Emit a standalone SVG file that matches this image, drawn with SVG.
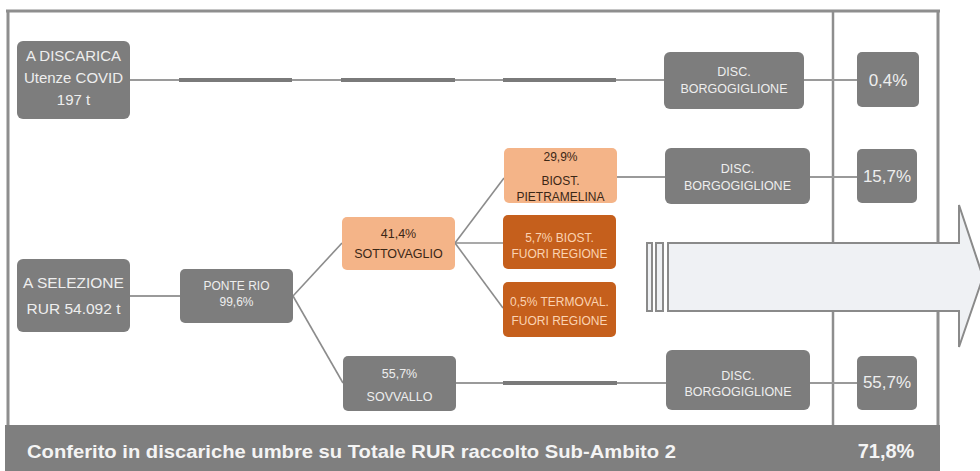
<svg xmlns="http://www.w3.org/2000/svg" width="980" height="471" viewBox="0 0 980 471">
  <style>
    .frame { stroke: #8e8e8e; stroke-width: 3; fill: none; }
    .divider { stroke: #8e8e8e; stroke-width: 2.5; fill: none; }
    .grey { fill: #7d7d7d; }
    .light { fill: #f4b488; }
    .dark { fill: #c55f1c; }
    .t { font-family: "Liberation Sans", Arial, sans-serif; text-anchor: middle; }
    .tg { fill: #eeeeee; }
    .tl { fill: #3b2716; }
    .td { fill: #fbd3b2; }
    .thin { stroke: #9a9a9a; stroke-width: 2; fill: none; }
    .thick { stroke: #7a7a7a; stroke-width: 4; fill: none; }
    .diag { stroke: #8c8c8c; stroke-width: 1.6; fill: none; }
    .arrow { fill: #eff1f4; stroke: #8a8a8a; stroke-width: 2; }
  </style>

  <!-- outer frame and column divider -->
  <g id="frame">
    <line class="frame" x1="6" y1="11" x2="940" y2="11"/>
    <line class="frame" x1="8" y1="10" x2="8" y2="426"/>
    <line class="frame" x1="938" y1="10" x2="938" y2="426"/>
    <line class="divider" x1="833" y1="11" x2="833" y2="426"/>
  </g>

  <!-- big arrow pointing right -->
  <g id="big-arrow">
    <rect class="arrow" x="647" y="243" width="5" height="68"/>
    <rect class="arrow" x="656" y="243" width="7" height="68"/>
    <path class="arrow" d="M668,243 H959 V205 L983,277 L959,347 V311 H668 Z"/>
  </g>

  <!-- connectors -->
  <g id="connectors">
    <!-- row: A DISCARICA -->
    <line class="thin" x1="130" y1="80" x2="179" y2="80"/>
    <line class="thick" x1="179" y1="80" x2="292" y2="80"/>
    <line class="thin" x1="292" y1="80" x2="341" y2="80"/>
    <line class="thick" x1="341" y1="80" x2="455" y2="80"/>
    <line class="thin" x1="455" y1="80" x2="503" y2="80"/>
    <line class="thick" x1="503" y1="80" x2="616" y2="80"/>
    <line class="thin" x1="616" y1="80" x2="664" y2="80"/>
    <line class="thin" x1="804" y1="80" x2="857" y2="80"/>
    <!-- A SELEZIONE to PONTE RIO -->
    <line class="thin" x1="130" y1="296" x2="180" y2="296"/>
    <!-- PONTE RIO branches -->
    <line class="diag" x1="293" y1="296" x2="342" y2="243"/>
    <line class="diag" x1="293" y1="296" x2="343" y2="383"/>
    <!-- SOTTOVAGLIO branches -->
    <line class="diag" x1="455" y1="243" x2="504" y2="178"/>
    <line class="diag" x1="455" y1="243" x2="503" y2="243"/>
    <line class="diag" x1="455" y1="243" x2="503" y2="308"/>
    <!-- PIETRAMELINA row -->
    <line class="thin" x1="617" y1="177" x2="665" y2="177"/>
    <line class="thin" x1="810" y1="177" x2="857" y2="177"/>
    <!-- SOVVALLO row -->
    <line class="thin" x1="456" y1="383" x2="503" y2="383"/>
    <line class="thick" x1="503" y1="383" x2="617" y2="383"/>
    <line class="thin" x1="617" y1="383" x2="666" y2="383"/>
    <line class="thin" x1="810" y1="383" x2="857" y2="383"/>
  </g>

  <g id="n-discarica">
    <rect class="grey" x="17" y="41" width="113" height="78" rx="6"/>
    <text class="t tg" x="73.5" y="60.5" font-size="15">A DISCARICA</text>
    <text class="t tg" x="73.5" y="82.5" font-size="15">Utenze COVID</text>
    <text class="t tg" x="73.5" y="104.5" font-size="15">197 t</text>
  </g>

  <g id="n-selezione">
    <rect class="grey" x="17" y="259" width="113" height="73" rx="6"/>
    <text class="t tg" x="73.5" y="287.5" font-size="15.5">A SELEZIONE</text>
    <text class="t tg" x="73.5" y="313.5" font-size="15.5">RUR 54.092 t</text>
  </g>

  <g id="n-ponterio">
    <rect class="grey" x="180" y="269" width="113" height="54" rx="5"/>
    <text class="t tg" x="236.5" y="290" font-size="12">PONTE RIO</text>
    <text class="t tg" x="236.5" y="306" font-size="12">99,6%</text>
  </g>

  <g id="n-sottovaglio">
    <rect class="light" x="342" y="217" width="113" height="53" rx="5"/>
    <text class="t tl" x="398.5" y="238" font-size="12.5">41,4%</text>
    <text class="t tl" x="398.5" y="258" font-size="12.5">SOTTOVAGLIO</text>
  </g>

  <g id="n-pietramelina">
    <rect class="light" x="504" y="148" width="113" height="55" rx="5"/>
    <text class="t tl" x="560.5" y="161" font-size="12">29,9%</text>
    <text class="t tl" x="560.5" y="185" font-size="12">BIOST.</text>
    <text class="t tl" x="560.5" y="201" font-size="12">PIETRAMELINA</text>
  </g>

  <g id="n-biost-fuori">
    <rect class="dark" x="503" y="215" width="113" height="54" rx="5"/>
    <text class="t td" x="559.5" y="241.5" font-size="12">5,7% BIOST.</text>
    <text class="t td" x="559.5" y="258" font-size="12">FUORI REGIONE</text>
  </g>

  <g id="n-termoval">
    <rect class="dark" x="503" y="282" width="113" height="55" rx="5"/>
    <text class="t td" x="559.5" y="306" font-size="12">0,5% TERMOVAL.</text>
    <text class="t td" x="559.5" y="325" font-size="12">FUORI REGIONE</text>
  </g>

  <g id="n-sovvallo">
    <rect class="grey" x="343" y="356" width="113" height="55" rx="5"/>
    <text class="t tg" x="399.5" y="377.5" font-size="12.5">55,7%</text>
    <text class="t tg" x="399.5" y="401" font-size="12.5">SOVVALLO</text>
  </g>

  <g id="n-disc1">
    <rect class="grey" x="664" y="52" width="140" height="57" rx="6"/>
    <text class="t tg" x="734" y="76" font-size="12.5">DISC.</text>
    <text class="t tg" x="734" y="93" font-size="12.5">BORGOGIGLIONE</text>
  </g>

  <g id="n-disc2">
    <rect class="grey" x="665" y="148" width="145" height="56" rx="6"/>
    <text class="t tg" x="737.5" y="173" font-size="12.5">DISC.</text>
    <text class="t tg" x="737.5" y="189.5" font-size="12.5">BORGOGIGLIONE</text>
  </g>

  <g id="n-disc3">
    <rect class="grey" x="666" y="350" width="144" height="60" rx="6"/>
    <text class="t tg" x="738" y="380" font-size="12.5">DISC.</text>
    <text class="t tg" x="738" y="396" font-size="12.5">BORGOGIGLIONE</text>
  </g>

  <g id="p-covid">
    <rect class="grey" x="857" y="52" width="62" height="55" rx="5"/>
    <text class="t tg" x="888" y="86" font-size="17">0,4%</text>
  </g>

  <g id="p-pietramelina">
    <rect class="grey" x="857" y="149" width="60" height="54" rx="5"/>
    <text class="t tg" x="887" y="182" font-size="17">15,7%</text>
  </g>

  <g id="p-sovvallo">
    <rect class="grey" x="857" y="356" width="60" height="54" rx="5"/>
    <text class="t tg" x="887" y="388" font-size="17">55,7%</text>
  </g>

  <!-- summary bar -->
  <g id="summary">
    <rect x="5" y="425" width="935" height="46" fill="#7f7f7f"/>
    <text x="27" y="458" font-family="Liberation Sans, Arial, sans-serif" font-weight="bold" font-size="19" fill="#f4f4f4" textLength="649" lengthAdjust="spacingAndGlyphs">Conferito in discariche umbre su Totale RUR raccolto Sub-Ambito 2</text>
    <text x="886" y="458" font-family="Liberation Sans, Arial, sans-serif" font-weight="bold" font-size="20" fill="#f4f4f4" text-anchor="middle">71,8%</text>
  </g>
</svg>
